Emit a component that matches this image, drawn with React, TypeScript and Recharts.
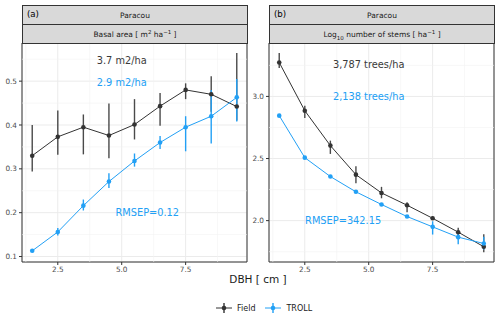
import React from 'react'
import {
  ComposedChart, Line, XAxis, YAxis, CartesianGrid, ErrorBar, ReferenceLine, ReferenceArea, ReferenceDot,
} from 'recharts'

const dbh = [1.5, 2.5, 3.5, 4.5, 5.5, 6.5, 7.5, 8.5, 9.5]

const basalField = [0.330, 0.373, 0.395, 0.376, 0.401, 0.443, 0.480, 0.470, 0.442]
const basalFieldLo = [0.294, 0.332, 0.333, 0.324, 0.367, 0.398, 0.459, 0.430, 0.410]
const basalFieldHi = [0.400, 0.433, 0.424, 0.449, 0.459, 0.473, 0.495, 0.511, 0.564]
const basalTroll = [0.113, 0.156, 0.216, 0.271, 0.318, 0.360, 0.395, 0.420, 0.463]
const basalTrollLo = [0.110, 0.148, 0.205, 0.256, 0.305, 0.345, 0.340, 0.358, 0.408]
const basalTrollHi = [0.116, 0.165, 0.230, 0.290, 0.335, 0.375, 0.420, 0.480, 0.505]

const stemsField = [3.273, 2.885, 2.604, 2.370, 2.223, 2.124, 2.019, 1.907, 1.790]
const stemsFieldLo = [3.228, 2.826, 2.537, 2.300, 2.180, 2.068, 2.005, 1.880, 1.746]
const stemsFieldHi = [3.349, 2.925, 2.644, 2.437, 2.272, 2.148, 2.033, 1.942, 1.890]
const stemsTroll = [2.845, 2.507, 2.355, 2.232, 2.130, 2.033, 1.950, 1.867, 1.816]
const stemsTrollLo = [2.840, 2.497, 2.345, 2.220, 2.125, 2.028, 1.888, 1.810, 1.768]
const stemsTrollHi = [2.850, 2.517, 2.365, 2.244, 2.135, 2.038, 1.995, 1.902, 1.870]

const xTicks = [2.5, 5.0, 7.5]
const xMinor = [1.25, 3.75, 6.25, 8.75]
const basalTicks = [0.1, 0.2, 0.3, 0.4, 0.5]
const basalMinor = [0.15, 0.25, 0.35, 0.45, 0.55]
const stemsTicks = [2.0, 2.5, 3.0]
const stemsMinor = [1.75, 2.25, 2.75, 3.25]

const FIELD = '#333333'
const TROLL = '#22A0F5'
const FONT = '"DejaVu Sans", sans-serif'

function buildRows(f: number[], fLo: number[], fHi: number[], t: number[], tLo: number[], tHi: number[]) {
  return dbh.map((x, i) => ({
    x,
    field: f[i],
    fieldErr: [f[i] - fLo[i], fHi[i] - f[i]],
    troll: t[i],
    trollErr: [t[i] - tLo[i], tHi[i] - t[i]],
  }))
}

const basalRows = buildRows(basalField, basalFieldLo, basalFieldHi, basalTroll, basalTrollLo, basalTrollHi)
const stemsRows = buildRows(stemsField, stemsFieldLo, stemsFieldHi, stemsTroll, stemsTrollLo, stemsTrollHi)

interface Note { x: number; y: number; text: string; color: string }

interface PanelProps {
  rows: any[]
  domain: [number, number]
  yTicks: number[]
  yMinor: number[]
  notes: Note[]
}

function Panel({ rows, domain, yTicks, yMinor, notes }: PanelProps) {
  const tick = { fontSize: 7.3, fill: '#4D4D4D', fontFamily: FONT }
  return (
    <ComposedChart width={250} height={290} data={rows} margin={{ top: 43, right: 3, left: 0, bottom: 0 }}>
      <CartesianGrid stroke="#EBEBEB" strokeWidth={1} />
      {xMinor.map((v) => <ReferenceLine key={'x' + v} x={v} stroke="#F2F2F2" strokeWidth={0.6} />)}
      {yMinor.map((v) => <ReferenceLine key={'y' + v} y={v} stroke="#F2F2F2" strokeWidth={0.6} />)}
      <XAxis
        type="number" dataKey="x" domain={[1.1, 9.9]} ticks={xTicks} allowDataOverflow
        tickFormatter={(v) => v.toFixed(1)} tick={tick} tickSize={3} height={28}
        axisLine={false} tickLine={{ stroke: '#333' }}
      />
      <YAxis
        type="number" domain={domain} ticks={yTicks} allowDataOverflow
        tickFormatter={(v) => v.toFixed(1)} tick={tick} tickSize={3} width={22}
        axisLine={false} tickLine={{ stroke: '#333' }}
      />
      <Line dataKey="field" stroke={FIELD} strokeWidth={1} isAnimationActive={false}
        dot={{ r: 2.3, fill: FIELD, stroke: 'none' }} activeDot={false}>
        <ErrorBar dataKey="fieldErr" width={0} stroke="#4a4a4a" strokeWidth={1.4} />
      </Line>
      <Line dataKey="troll" stroke={TROLL} strokeWidth={1} isAnimationActive={false}
        dot={{ r: 2.3, fill: TROLL, stroke: 'none' }} activeDot={false}>
        <ErrorBar dataKey="trollErr" width={0} stroke={TROLL} strokeWidth={1.4} />
      </Line>
      {notes.map((n) => (
        <ReferenceDot key={n.text} x={n.x} y={n.y} r={0} fill="none" stroke="none" ifOverflow="visible"
          label={(p: any) => (
            <text x={p.viewBox.x} y={p.viewBox.y} textAnchor="middle" dominantBaseline="central"
              fontSize={9.8} fill={n.color} fontFamily={FONT}>{n.text}</text>
          )}
        />
      ))}
      <ReferenceArea x1={1.1} x2={9.9} y1={domain[0]} y2={domain[1]} fill="none" stroke="#333" strokeWidth={1} ifOverflow="visible" />
    </ComposedChart>
  )
}

const stripBase: React.CSSProperties = {
  position: 'absolute', boxSizing: 'border-box', background: '#D9D9D9', border: '1px solid #333',
  fontFamily: FONT, fontSize: 7.5, color: '#1A1A1A', display: 'flex', alignItems: 'center', justifyContent: 'center',
}

function Strips({ left, width, tag, label }: { left: number; width: number; tag: string; label: React.ReactNode }) {
  return (
    <>
      <div style={{ ...stripBase, left, top: 5, width, height: 20 }}>
        Paracou
        <span style={{ position: 'absolute', left: 4, top: 3, fontSize: 8.6, color: '#000' }}>{tag}</span>
      </div>
      <div style={{ ...stripBase, left, top: 24, width, height: 20 }}>{label}</div>
    </>
  )
}

function LegendKey({ color }: { color: string }) {
  return (
    <svg width={16} height={12} style={{ display: 'block' }}>
      <line x1={0} y1={6} x2={16} y2={6} stroke={color} strokeWidth={1} />
      <line x1={8} y1={1} x2={8} y2={11} stroke={color} strokeWidth={1.4} />
      <circle cx={8} cy={6} r={2.3} fill={color} />
    </svg>
  )
}

export default function App() {
  const supStyle: React.CSSProperties = { fontSize: 5.5, verticalAlign: 'super', lineHeight: 0 }
  const subStyle: React.CSSProperties = { fontSize: 5.5, verticalAlign: 'sub', lineHeight: 0 }
  return (
    <div style={{ position: 'absolute', left: 0, top: 0, width: 500, height: 320, background: '#fff', overflow: 'hidden' }}>
      <div style={{ position: 'absolute', left: 0, top: 0 }}>
        <Panel rows={basalRows} domain={[0.0875, 0.587]} yTicks={basalTicks} yMinor={basalMinor}
          notes={[
            { x: 5, y: 0.548, text: '3.7 m2/ha', color: '#3a3a3a' },
            { x: 5, y: 0.498, text: '2.9 m2/ha', color: TROLL },
            { x: 6, y: 0.2, text: 'RMSEP=0.12', color: TROLL },
          ]}
        />
      </div>
      <div style={{ position: 'absolute', left: 247, top: 0 }}>
        <Panel rows={stemsRows} domain={[1.667, 3.43]} yTicks={stemsTicks} yMinor={stemsMinor}
          notes={[
            { x: 5, y: 3.255, text: '3,787 trees/ha', color: '#3a3a3a' },
            { x: 5, y: 3.0, text: '2,138 trees/ha', color: TROLL },
            { x: 4, y: 2.0, text: 'RMSEP=342.15', color: TROLL },
          ]}
        />
      </div>
      <Strips left={22} width={226} tag="(a)"
        label={<span>Basal area [ m<span style={supStyle}>2</span> ha<span style={supStyle}>−1</span> ]</span>} />
      <Strips left={269} width={226} tag="(b)"
        label={<span>Log<span style={subStyle}>10</span> number of stems [ ha<span style={supStyle}>−1</span> ]</span>} />
      <div style={{ position: 'absolute', left: 0, width: 516, top: 273, textAlign: 'center', fontFamily: FONT, fontSize: 10.5, color: '#1A1A1A' }}>
        DBH [ cm ]
      </div>
      <div style={{ position: 'absolute', left: 216, top: 302, display: 'flex', alignItems: 'center', fontFamily: FONT, fontSize: 8, color: '#1A1A1A' }}>
        <LegendKey color={FIELD} />
        <span style={{ marginLeft: 5, marginRight: 10 }}>Field</span>
        <LegendKey color={TROLL} />
        <span style={{ marginLeft: 5 }}>TROLL</span>
      </div>
    </div>
  )
}
